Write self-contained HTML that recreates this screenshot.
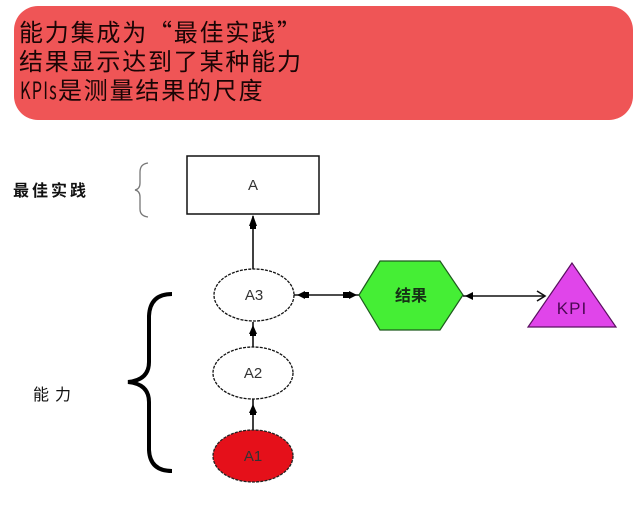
<!DOCTYPE html>
<html>
<head>
<meta charset="utf-8">
<style>
html,body{margin:0;padding:0;background:#fff;}
svg{display:block;}
.hd{font-family:"Noto Sans CJK SC","WenQuanYi Zen Hei",sans-serif;font-size:24px;fill:#1a0505;letter-spacing:1.8px;}
.lb{font-family:"Liberation Sans","Noto Sans CJK SC",sans-serif;font-size:16px;fill:#111;}
.nd{font-family:"Liberation Sans",sans-serif;font-size:15px;fill:#333;}
</style>
</head>
<body>
<svg width="640" height="514" viewBox="0 0 640 514" xmlns="http://www.w3.org/2000/svg">
  <!-- header box -->
  <rect x="14" y="6" width="619" height="114" rx="24" ry="24" fill="#ef5556"/>
  <text class="hd" x="19" y="41">能力集成为“最佳实践”</text>
  <text class="hd" x="19" y="70">结果显示达到了某种能力</text>
  <text class="hd" x="20" y="99" font-family="'Liberation Mono',monospace" font-size="21" letter-spacing="0" textLength="38" lengthAdjust="spacingAndGlyphs">KPIs</text>
  <text class="hd" x="58" y="99" letter-spacing="3">是测量结果的尺度</text>

  <!-- left labels -->
  <text class="lb" x="13" y="196" letter-spacing="3" font-weight="bold">最佳实践</text>
  <text class="lb" x="33" y="400" letter-spacing="6">能力</text>

  <!-- small brace -->
  <path d="M148,163 Q140,164 140,172 L140,183 Q140,189 135,190 Q140,191 140,197 L140,209 Q140,216 148,217" fill="none" stroke="#777" stroke-width="1.3"/>

  <!-- big brace -->
  <path d="M172,294 Q150,294 149,316 L149,362 Q149,380 128,382 Q149,384 149,402 L149,450 Q150,471 172,471" fill="none" stroke="#000" stroke-width="4"/>

  <!-- box A -->
  <rect x="187" y="156" width="132" height="58" fill="#fff" stroke="#111" stroke-width="1.5"/>
  <text class="nd" x="253" y="190" text-anchor="middle">A</text>

  <!-- vertical connectors -->
  <line x1="253" y1="269" x2="253" y2="216" stroke="#111" stroke-width="1.6"/>
  <polygon points="253,215 249,226 257,226" fill="#000"/>
  <rect x="250" y="225" width="6" height="4" fill="#000"/>

  <line x1="253" y1="348" x2="253" y2="322" stroke="#111" stroke-width="1.6"/>
  <polygon points="253,325 249,334 257,334" fill="#000"/>
  <rect x="250" y="333" width="6" height="3" fill="#000"/>

  <line x1="253" y1="430" x2="253" y2="399" stroke="#111" stroke-width="1.6"/>
  <polygon points="253,404 249,413 257,413" fill="#000"/>
  <rect x="250" y="412" width="6" height="3" fill="#000"/>

  <!-- ellipses -->
  <ellipse cx="254" cy="295" rx="40" ry="26" fill="#fff" stroke="#111" stroke-width="1.3" stroke-dasharray="3,1.2"/>
  <text class="nd" x="254" y="300" text-anchor="middle">A3</text>
  <ellipse cx="253" cy="373" rx="40" ry="26" fill="#fff" stroke="#111" stroke-width="1.3" stroke-dasharray="3,1.2"/>
  <text class="nd" x="253" y="378" text-anchor="middle">A2</text>
  <ellipse cx="253" cy="456" rx="40" ry="26" fill="#e5101a" stroke="#222" stroke-width="1.3" stroke-dasharray="3,1.2"/>
  <text class="nd" x="253" y="461" text-anchor="middle" fill="#400">A1</text>

  <!-- A3 <-> hex -->
  <line x1="294" y1="295" x2="359" y2="295" stroke="#111" stroke-width="1.6"/>
  <polygon points="297,295 305,291 305,299" fill="#000"/>
  <rect x="304" y="292" width="5" height="6" fill="#000"/>
  <polygon points="357,295 349,291 349,299" fill="#000"/>
  <rect x="343" y="292" width="6" height="6" fill="#000"/>

  <!-- hexagon -->
  <polygon points="359,295 380,261 440,261 463,295 440,330 380,330" fill="#45ee35" stroke="#1e5a1e" stroke-width="1.2"/>
  <text x="411" y="301" text-anchor="middle" font-family="'Liberation Sans','Noto Sans CJK SC',sans-serif" font-size="16" font-weight="bold" fill="#153315">结果</text>

  <!-- hex <-> KPI -->
  <line x1="463" y1="296" x2="545" y2="296" stroke="#111" stroke-width="1.6"/>
  <polygon points="465,296 473,292 473,300" fill="#000"/>
  <polyline points="537,291 545,296 537,301" fill="none" stroke="#111" stroke-width="1.6"/>

  <!-- triangle -->
  <polygon points="572,263 528,327 616,327" fill="#e045ea" stroke="#5a1060" stroke-width="1.2"/>
  <text x="572" y="314" text-anchor="middle" font-family="'Liberation Sans',sans-serif" font-size="17" fill="#4a0852" letter-spacing="1">KPI</text>
</svg>
</body>
</html>
